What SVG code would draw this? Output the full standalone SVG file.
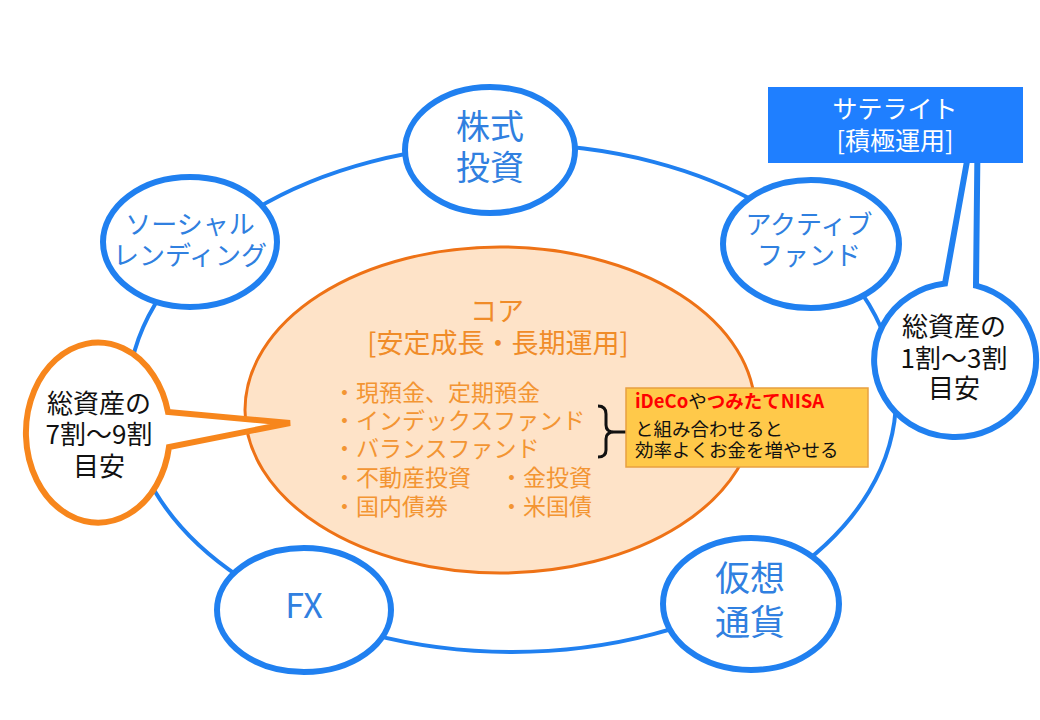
<svg xmlns="http://www.w3.org/2000/svg" width="1040" height="720" viewBox="0 0 1040 720">
<style>
text{font-family:"Noto Sans CJK JP","Noto Sans",sans-serif}
.node{fill:#fff;stroke:#2080F0;stroke-width:6}
.nt{fill:#3080E0;text-anchor:middle}
.bt{fill:#111;text-anchor:middle;font-size:26px}
.ct{fill:#F08C28;text-anchor:middle;font-size:27px}
.lt{fill:#F39533;font-size:23px}
.yt{font-size:18.5px;fill:#111}
.red{fill:#FF0000;font-weight:bold}
</style>
<rect width="1040" height="720" fill="#fff"/>
<g id="connectors">
<ellipse cx="512" cy="398" rx="384" ry="254" fill="none" stroke="#2080F0" stroke-width="4"/>
</g>
<g id="core">
<ellipse cx="500" cy="410" rx="255" ry="163" fill="#FEE3C8" stroke="#EE7216" stroke-width="3"/>
<text class="ct" x="497" y="321">コア</text>
<text class="ct" x="498" y="353">[安定成長・長期運用]</text>
<text class="lt" x="333" y="401">・現預金、定期預金</text>
<text class="lt" x="333" y="429">・インデックスファンド</text>
<text class="lt" x="333" y="457">・バランスファンド</text>
<text class="lt" x="333" y="486">・不動産投資</text>
<text class="lt" x="500" y="486">・金投資</text>
<text class="lt" x="333" y="515">・国内債券</text>
<text class="lt" x="500" y="515">・米国債</text>
</g>
<g id="brace">
<path d="M598,406 Q606,406 606,414 L606,425 Q606,432 614,432 Q606,432 606,439 L606,450 Q606,457 598,457 M614,432 L627,432" fill="none" stroke="#111" stroke-width="3"/>
</g>
<g id="note">
<rect x="626" y="388" width="242" height="79" fill="#FFC94A" stroke="#E8A040" stroke-width="1.5"/>
<text class="yt" x="635" y="408"><tspan class="red">iDeCo</tspan>や<tspan class="red">つみたてNISA</tspan></text>
<text class="yt" x="635" y="436">と組み合わせると</text>
<text class="yt" x="635" y="457">効率よくお金を増やせる</text>
</g>
<g id="node-stock">
<ellipse class="node" cx="490" cy="150" rx="85" ry="63"/>
<text class="nt" x="490" y="139" font-size="34">株式</text>
<text class="nt" x="490" y="180" font-size="34">投資</text>
</g>
<g id="node-social">
<ellipse class="node" cx="190" cy="242" rx="87" ry="65"/>
<text class="nt" x="190" y="234" font-size="26">ソーシャル</text>
<text class="nt" x="190" y="265" font-size="26">レンディング</text>
</g>
<g id="node-active">
<ellipse class="node" cx="811" cy="244" rx="88" ry="64"/>
<text class="nt" x="809" y="234" font-size="26">アクティブ</text>
<text class="nt" x="809" y="265" font-size="26">ファンド</text>
</g>
<g id="node-fx">
<ellipse class="node" cx="304" cy="610" rx="87" ry="62"/>
<text class="nt" x="304" y="618" font-size="34">FX</text>
</g>
<g id="node-crypto">
<ellipse class="node" cx="751" cy="604" rx="88" ry="66"/>
<text class="nt" x="750" y="591" font-size="35">仮想</text>
<text class="nt" x="750" y="635" font-size="35">通貨</text>
</g>
<g id="callout-core">
<path d="M168,412 A72,90 0 1,0 169,447 L290,423 Z" fill="#fff" stroke="#F7861C" stroke-width="6" stroke-linejoin="miter"/>
<text class="bt" x="99" y="413">総資産の</text>
<text class="bt" x="99" y="444">7割～9割</text>
<text class="bt" x="99" y="476">目安</text>
</g>
<g id="callout-satellite">
<path d="M945,283.6 A81,77 0 1,0 976,285.6 L978,100 Z" fill="#fff" stroke="#2080F0" stroke-width="6"/>
<text class="bt" x="954" y="336">総資産の</text>
<text class="bt" x="954" y="368">1割～3割</text>
<text class="bt" x="954" y="398">目安</text>
</g>
<g id="satellite">
<rect x="768" y="87" width="255" height="76" fill="#1F7FFF"/>
<text x="895" y="118" font-size="25" fill="#fff" text-anchor="middle">サテライト</text>
<text x="895" y="150" font-size="25" fill="#fff" text-anchor="middle">[積極運用]</text>
</g>
</svg>
